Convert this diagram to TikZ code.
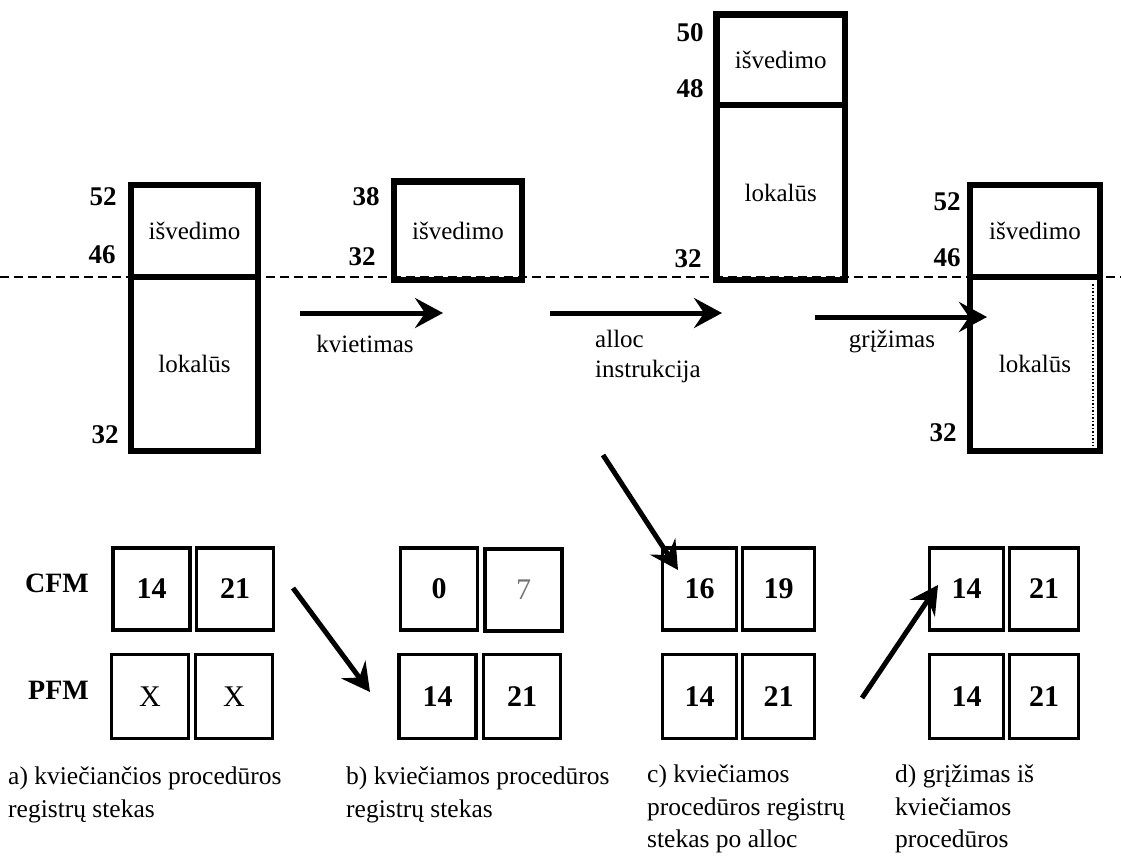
\documentclass[tikz,border=0pt]{standalone}
\usepackage{fontspec}
\setmainfont{Liberation Serif}
\usetikzlibrary{arrows.meta}
\begin{document}
\begin{tikzpicture}[x=1pt,y=-1pt,
  stackbox/.style={draw, line width=6.5pt, inner sep=0pt, font=\fontsize{25}{30}\selectfont},
  reg/.style={draw, line width=3.5pt, minimum width=77pt, minimum height=82pt, inner sep=0pt, font=\bfseries\fontsize{30}{36}\selectfont},
  regn/.style={reg, font=\fontsize{30}{36}\selectfont},
  num/.style={font=\bfseries\fontsize{27}{32}\selectfont, inner sep=0pt},
  rowlbl/.style={font=\bfseries\fontsize{28}{33}\selectfont, inner sep=0pt, anchor=east},
  bigarrow/.style={line width=5pt, -{Stealth[length=28pt,width=30pt,inset=10pt]}},
  lbl/.style={font=\fontsize{25}{30}\selectfont, inner sep=0pt},
  captext/.style={font=\fontsize{25.5}{32.5}\selectfont, align=left, inner sep=0pt, anchor=north west}
]
\useasboundingbox (0,0) rectangle (1121,856);

% dashed reference line
\coordinate (dl) at (0,277);
\coordinate (dr) at (1121,277);
\draw[line width=1.3pt, dash pattern=on 9pt off 5pt] (dl) -- (dr);

% a) stack
\node[stackbox, minimum width=127pt, minimum height=92pt] (a1) at (194.5,231) {išvedimo};
\node[stackbox, minimum width=127pt, minimum height=174pt] (a2) at (194.5,364) {lokalūs};
\node[num] (a52) at (103,197) {52};
\node[num] (a46) at (102,255) {46};
\node[num] (a32) at (105,435) {32};

% b) stack
\node[stackbox, minimum width=128pt, minimum height=98.5pt] (b1) at (458,230.75) {išvedimo};
\node[num] (b38) at (366,197) {38};
\node[num] (b32) at (362,257) {32};

% c) stack
\node[stackbox, minimum width=128.5pt, minimum height=90.5pt] (c1) at (780.75,59.75) {išvedimo};
\node[stackbox, minimum width=128.5pt, minimum height=175pt] (c2) at (780.75,192.5) {lokalūs};
\node[num] (c50) at (690,33) {50};
\node[num] (c48) at (690,89) {48};
\node[num] (c32) at (688,259) {32};

% d) stack
\node[stackbox, minimum width=130pt, minimum height=92pt] (d1) at (1035,231) {išvedimo};
\node[stackbox, minimum width=130pt, minimum height=174pt] (d2) at (1035,364) {lokalūs};
\coordinate (dd1) at (1093,284);
\coordinate (dd2) at (1093,446);
\draw[dotted, line width=1.5pt] (dd1) -- (dd2);
\node[num] (d52) at (947,202) {52};
\node[num] (d46) at (947,258) {46};
\node[num] (d32) at (943,433) {32};

% transition arrows
\coordinate (k1) at (300,313);
\coordinate (k2) at (443,313);
\draw[bigarrow] (k1) -- (k2);
\node[lbl, anchor=base] (kv) at (365,352) {kvietimas};

\coordinate (al1) at (550,313);
\coordinate (al2) at (722,313);
\draw[bigarrow] (al1) -- (al2);
\node[lbl, anchor=base west] (alloc) at (595,347) {alloc};
\node[lbl, anchor=base west] (instr) at (595,377) {instrukcija};

\coordinate (g1) at (815,317);
\coordinate (g2) at (987,317);
\draw[bigarrow] (g1) -- (g2);
\node[lbl, anchor=base] (gr) at (892,347) {grįžimas};

% register rows
\node[rowlbl] (cfm) at (89,583) {CFM};
\node[rowlbl] (pfm) at (89,690) {PFM};

\node[reg] (ra1) at (151.5,589) {14};
\node[reg] (ra2) at (235,589) {21};
\node[regn, minimum height=84pt] (ra3) at (150,696.5) {X};
\node[regn, minimum height=84pt] (ra4) at (234,696.5) {X};

\node[reg] (rb1) at (439,589) {0};
\node[regn, text=black!55] (rb2) at (523.5,590) {7};
\node[reg, minimum height=84pt] (rb3) at (437.5,696.5) {14};
\node[reg, minimum height=84pt] (rb4) at (522,696.5) {21};

\node[reg, minimum width=74pt] (rc1) at (699.5,589) {16};
\node[reg, minimum width=72pt] (rc2) at (778.5,589) {19};
\node[reg, minimum width=74pt, minimum height=84pt] (rc3) at (699.5,696.5) {14};
\node[reg, minimum width=72pt, minimum height=84pt] (rc4) at (778.5,696.5) {21};

\node[reg, minimum width=74pt] (rd1) at (966.5,589) {14};
\node[reg, minimum width=69pt] (rd2) at (1044,589) {21};
\node[reg, minimum width=74pt, minimum height=84pt] (rd3) at (966.5,696.5) {14};
\node[reg, minimum width=69pt, minimum height=84pt] (rd4) at (1044,696.5) {21};

% diagonal arrows
\coordinate (p1) at (293,588);
\coordinate (p2) at (370,692);
\draw[bigarrow] (p1) -- (p2);
\coordinate (q1) at (603,455);
\coordinate (q2) at (678,570);
\draw[bigarrow] (q1) -- (q2);
\coordinate (s1) at (862,698);
\coordinate (s2) at (938,585);
\draw[bigarrow] (s1) -- (s2);

% captions
\node[captext] (capa) at (8,767) {a) kviečiančios procedūros\\registrų stekas};
\node[captext] (capb) at (346,767) {b) kviečiamos procedūros\\registrų stekas};
\node[captext] (capc) at (647,765) {c) kviečiamos\\procedūros registrų\\stekas po alloc};
\node[captext] (capd) at (895,765) {d) grįžimas iš\\kviečiamos\\procedūros};
\end{tikzpicture}
\end{document}
